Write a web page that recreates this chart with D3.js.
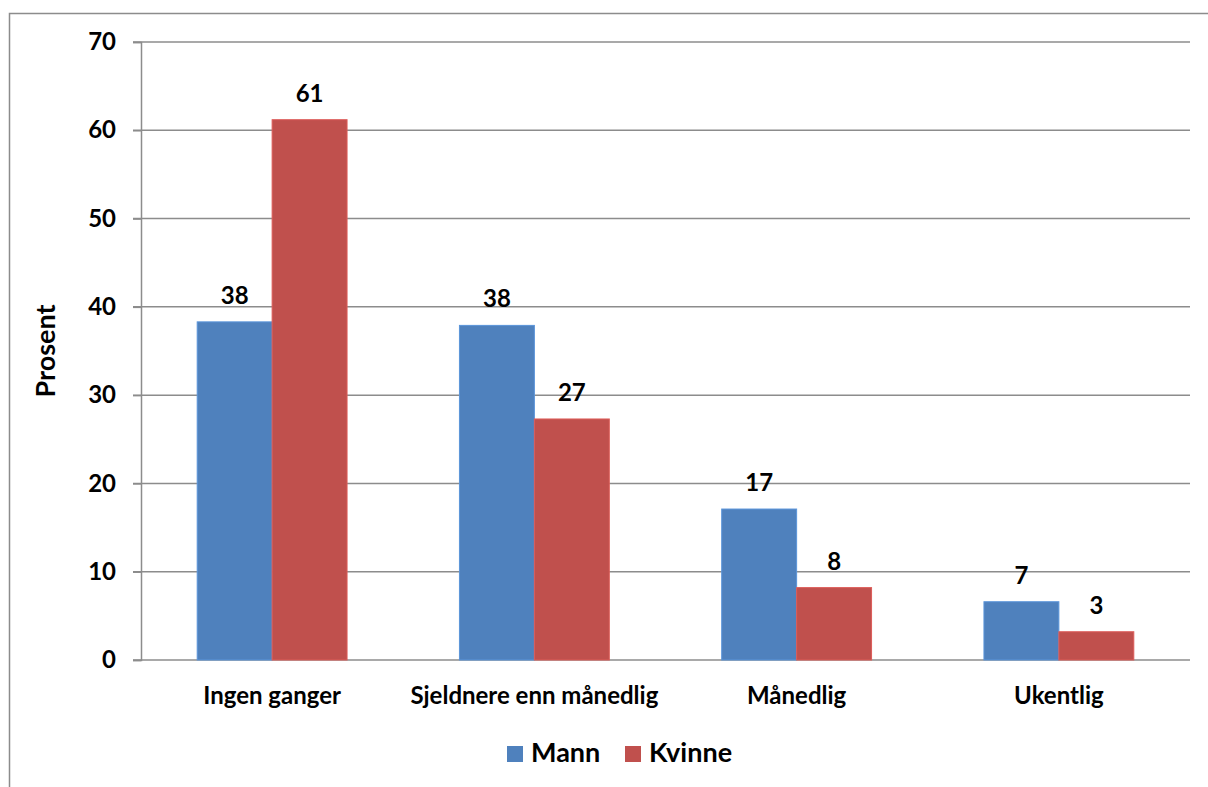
<!DOCTYPE html>
<html>
<head>
<meta charset="utf-8">
<script src="https://cdn.jsdelivr.net/npm/d3@7"></script>
<style>
  html, body { margin: 0; padding: 0; background: #fff; }
  svg { display: block; }
  text { font-family: Lato, "Open Sans", sans-serif; font-weight: bold; fill: #000; }
</style>
</head>
<body>
<svg id="chart" width="1208" height="787"></svg>
<script>
// Frekvens fordelt på kjønn (prosent)
const categories = ["Ingen ganger", "Sjeldnere enn månedlig", "Månedlig", "Ukentlig"];
const seriesNames = ["Mann", "Kvinne"];
const mannValues = [38.3, 37.9, 17.1, 6.6];
const kvinneValues = [61.2, 27.3, 8.2, 3.2];
const yTicks = [0, 10, 20, 30, 40, 50, 60, 70];
const colors = ["#4F81BD", "#C0504D"];

const svg = d3.select("#chart");
const W = 1208, H = 787;
const margin = { left: 141, right: 18, top: 42, bottom: 127 };
const plotW = W - margin.left - margin.right;
const plotH = H - margin.top - margin.bottom;

// outer chart frame
svg.append("path")
  .attr("d", `M9.5,${H} V13.5 H${W}`)
  .attr("fill", "none")
  .attr("stroke", "#8c8c8c")
  .attr("stroke-width", 1.5);

const g = svg.append("g").attr("transform", `translate(${margin.left},${margin.top})`);

const x0 = d3.scaleBand().domain(categories).range([0, plotW]).paddingInner(0).paddingOuter(0);
const x1 = d3.scaleBand().domain(seriesNames).range([0, x0.bandwidth()]).paddingInner(0).paddingOuter(0.75);
const y = d3.scaleLinear().domain([0, 70]).range([plotH, 0]);

// horizontal gridlines + tick marks
g.append("g")
  .selectAll("line")
  .data(yTicks)
  .join("line")
  .attr("x1", -8)
  .attr("x2", plotW)
  .attr("y1", d => y(d))
  .attr("y2", d => y(d))
  .attr("stroke", "#8c8c8c")
  .attr("stroke-width", 1.5);

// y axis
const yAxis = g.append("g")
  .call(d3.axisLeft(y).tickValues(yTicks).tickSize(8).tickPadding(17));
yAxis.select(".domain").attr("stroke", "#8c8c8c").attr("stroke-width", 1.5);
yAxis.selectAll(".tick line").attr("stroke", "#8c8c8c").attr("stroke-width", 1.5);
yAxis.selectAll(".tick text")
  .attr("font-size", 24)
  .attr("font-family", "Lato, sans-serif")
  .attr("font-weight", "bold")
  .attr("fill", "#000");

// y axis title
svg.append("text")
  .attr("transform", `translate(55,${margin.top + plotH / 2}) rotate(-90)`)
  .attr("text-anchor", "middle")
  .attr("font-size", 27)
  .text("Prosent");

// bars
const rows = categories.map((c, i) => ({ cat: c, vals: [mannValues[i], kvinneValues[i]] }));
const groups = g.selectAll("g.cat")
  .data(rows)
  .join("g")
  .attr("class", "cat")
  .attr("transform", d => `translate(${x0(d.cat)},0)`);

groups.selectAll("rect")
  .data(d => d.vals.map((v, j) => ({ name: seriesNames[j], v, j })))
  .join("rect")
  .attr("x", d => x1(d.name))
  .attr("width", x1.bandwidth())
  .attr("y", d => y(d.v))
  .attr("height", d => plotH - y(d.v))
  .attr("fill", d => colors[d.j])
  .attr("stroke", d => d3.color(colors[d.j]).brighter(0.4))
  .attr("stroke-width", 1);

// value labels
groups.selectAll("text.val")
  .data(d => d.vals.map((v, j) => ({ name: seriesNames[j], v, j })))
  .join("text")
  .attr("class", "val")
  .attr("x", d => x1(d.name) + x1.bandwidth() / 2)
  .attr("y", d => y(d.v) - 18)
  .attr("text-anchor", "middle")
  .attr("font-size", 24)
  .text(d => d3.format(".0f")(d.v));

// category labels
g.selectAll("text.cat")
  .data(categories)
  .join("text")
  .attr("class", "cat")
  .attr("x", d => x0(d) + x0.bandwidth() / 2)
  .attr("y", plotH + 44)
  .attr("text-anchor", "middle")
  .attr("font-size", 24)
  .text(d => d);

// legend
const legend = svg.append("g").attr("transform", "translate(507,746)");
const legendX = [0, 118];
seriesNames.forEach((name, i) => {
  const item = legend.append("g").attr("transform", `translate(${legendX[i]},0)`);
  item.append("rect").attr("width", 16).attr("height", 16).attr("fill", colors[i]);
  item.append("text").attr("x", 24).attr("y", 16).attr("font-size", 27).text(name);
});
</script>
</body>
</html>
